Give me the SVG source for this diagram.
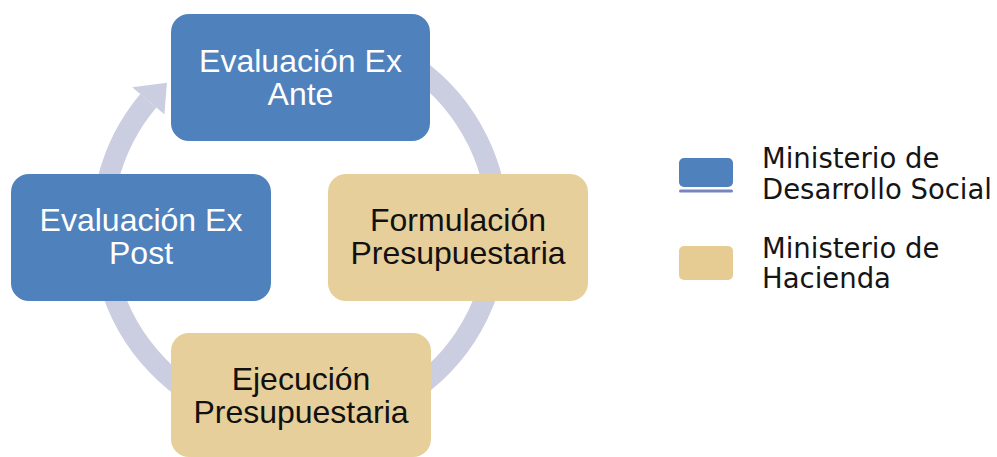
<svg xmlns="http://www.w3.org/2000/svg" width="997" height="457" viewBox="0 0 997 457">
  <style>
    .blue { fill: #4F81BD; }
    .tan { fill: #E6CF9A; }
    .nt { font-family: "Liberation Sans", Arial, sans-serif; font-size: 32px; text-anchor: middle; }
    .wt { fill: #FFFFFF; }
    .bt { fill: #111111; }
    .lg { font-family: "DejaVu Sans", Verdana, sans-serif; font-size: 27.5px; fill: #151515; }
    .ring { fill: none; stroke: #CBCDE0; stroke-width: 21; }
  </style>
  <rect x="0" y="0" width="997" height="457" fill="#FFFFFF"/>
  <g id="connectors">
    <path class="ring" d="M 232.3 41.9 A 198 198 0 1 1 148.3 100.7"/>
    <polygon points="132.2,87.2 164.4,114.2 166.9,82.8" fill="#CBCDE0"/>
  </g>
  <g id="node-exante">
    <rect class="blue" x="171" y="14" width="259" height="127" rx="18"/>
    <text class="nt wt" x="300.5" y="72">Evaluación Ex</text>
    <text class="nt wt" x="300.5" y="105">Ante</text>
  </g>
  <g id="node-formulacion">
    <rect class="tan" x="328" y="174" width="260" height="127" rx="18"/>
    <text class="nt bt" x="458" y="231">Formulación</text>
    <text class="nt bt" x="458" y="264">Presupuestaria</text>
  </g>
  <g id="node-ejecucion">
    <rect class="tan" x="171" y="333" width="260" height="124" rx="18"/>
    <text class="nt bt" x="301" y="390">Ejecución</text>
    <text class="nt bt" x="301" y="423">Presupuestaria</text>
  </g>
  <g id="node-expost">
    <rect class="blue" x="11" y="174" width="260" height="127" rx="18"/>
    <text class="nt wt" x="141" y="231">Evaluación Ex</text>
    <text class="nt wt" x="141" y="264">Post</text>
  </g>
  <g id="legend-mds">
    <rect x="679" y="158" width="54" height="29" rx="5" fill="#4F81BD"/>
    <rect x="679" y="189.5" width="54" height="3" rx="1.5" fill="#7485C0"/>
    <text class="lg" x="762" y="168">Ministerio de</text>
    <text class="lg" x="762" y="199">Desarrollo Social</text>
  </g>
  <g id="legend-hacienda">
    <rect x="679" y="246" width="54" height="34" rx="5" fill="#E6CC93"/>
    <text class="lg" x="762" y="258">Ministerio de</text>
    <text class="lg" x="762" y="288">Hacienda</text>
  </g>
</svg>
